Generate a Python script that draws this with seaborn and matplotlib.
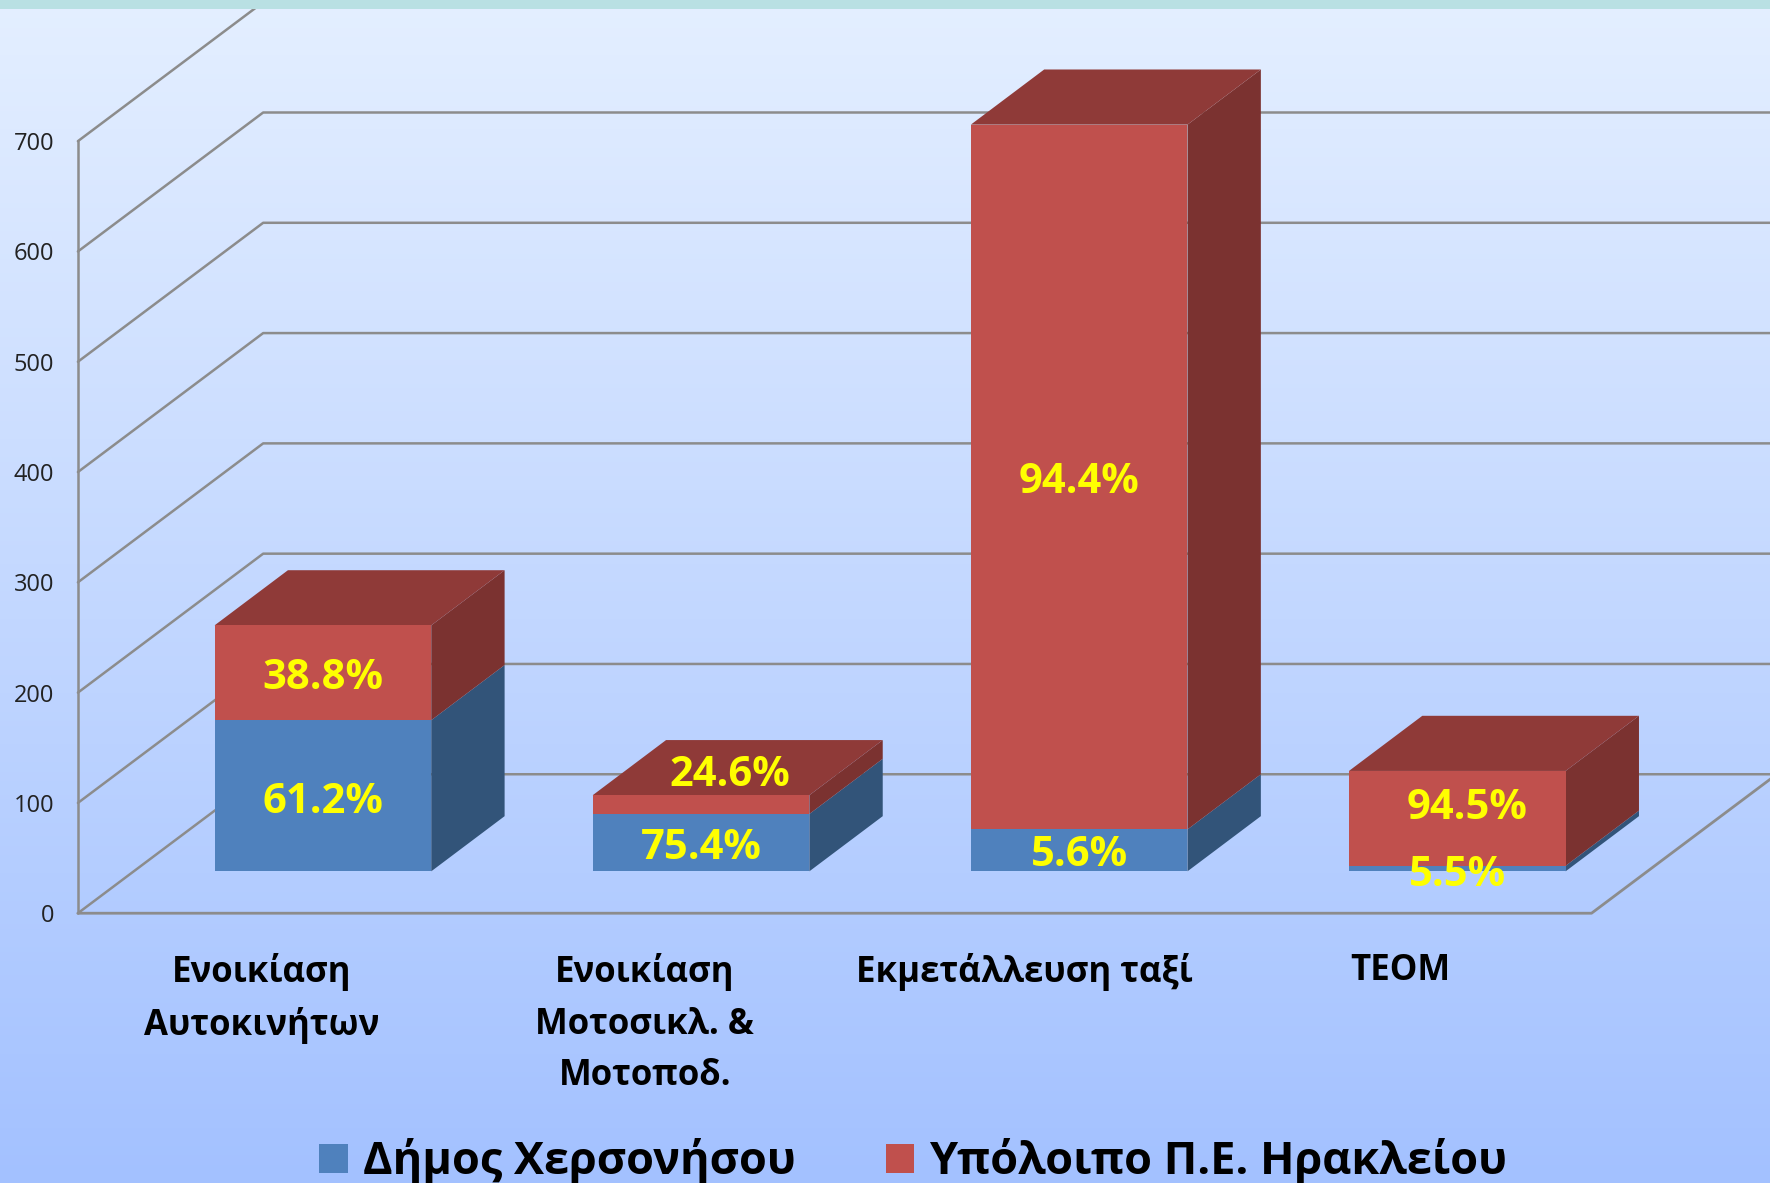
import numpy as np
import pandas as pd
import matplotlib.pyplot as plt
import seaborn as sns
from matplotlib.colors import LinearSegmentedColormap
from matplotlib.patches import Patch, Polygon, Rectangle

sns.set_theme(style="white")
plt.rcParams['font.family'] = ['Open Sans', 'DejaVu Sans']

# values
categories = ["Ενοικίαση\nΑυτοκινήτων", "Ενοικίαση\nΜοτοσικλ. &\nΜοτοποδ.", "Εκμετάλλευση ταξί", "ΤΕΟΜ"]
chersonisos = [137, 52, 38, 5]
rest = [86, 17, 639, 86]
chersonisos_labels = ["61.2%", "75.4%", "5.6%", "5.5%"]
rest_labels = ["38.8%", "24.6%", "94.4%", "94.5%"]
series_names = ["Δήμος Χερσονήσου", "Υπόλοιπο Π.Ε. Ηρακλείου"]
y_ticks = [0, 100, 200, 300, 400, 500, 600, 700]

BLUE, BLUE_SIDE = "#4f81bd", "#325479"
RED, RED_SIDE, RED_TOP = "#c0504d", "#7b3230", "#8f3a38"
GRID = "#8c8c8c"

# fake 3d geometry, in data units
WALL_DX, WALL_DY = 0.49, 126
BAR_DX, BAR_DY = 0.194, 50
FLOOR_LEFT, FLOOR_RIGHT = -0.648, 3.355
BAR_BASE = 38
BAR_WIDTH = 0.573
XLIM = (-0.854, 3.827)
YLIM = (-244.6, 828)

df = pd.DataFrame({"category": categories, "blue": chersonisos, "red": rest})

fig = plt.figure(figsize=(17.7, 11.83), dpi=100)
ax = fig.add_axes([0, 0, 1, 1])

# background gradient and the strip along the top
cmap = LinearSegmentedColormap.from_list("bg", ["#e4efff", "#a3c1ff"])
ax.imshow(np.linspace(0, 1, 256).reshape(-1, 1), cmap=cmap, aspect="auto",
          extent=(*XLIM, *YLIM), zorder=0)

# walls and gridlines
for v in y_ticks:
    ax.plot([FLOOR_LEFT, FLOOR_LEFT + WALL_DX, XLIM[1]], [v, v + WALL_DY, v + WALL_DY],
            color=GRID, lw=1.8, zorder=0.5)
ax.plot([FLOOR_LEFT, FLOOR_LEFT], [0, 700], color=GRID, lw=1.8, zorder=0.5)
ax.plot([FLOOR_LEFT, FLOOR_RIGHT, FLOOR_RIGHT + WALL_DX], [0, 0, WALL_DY],
        color=GRID, lw=2, zorder=0.6)

sns.barplot(data=df, x="category", y="blue", color=BLUE, saturation=1, width=BAR_WIDTH,
            bottom=BAR_BASE, linewidth=0, edgecolor="none", ax=ax, zorder=2)
blue_bars = list(ax.patches)
sns.barplot(data=df, x="category", y="red", color=RED, saturation=1, width=BAR_WIDTH,
            bottom=[BAR_BASE + b for b in chersonisos], linewidth=0, edgecolor="none", ax=ax, zorder=2)
red_bars = [p for p in ax.patches if p not in blue_bars]


def side_face(bar, color):
    x = bar.get_x() + bar.get_width()
    y0, y1 = bar.get_y(), bar.get_y() + bar.get_height()
    ax.add_patch(Polygon([(x, y0), (x + BAR_DX, y0 + BAR_DY), (x + BAR_DX, y1 + BAR_DY), (x, y1)],
                         facecolor=color, edgecolor="none", zorder=1.5))


for bar in blue_bars:
    side_face(bar, BLUE_SIDE)
for bar in red_bars:
    side_face(bar, RED_SIDE)
    x0, w, top = bar.get_x(), bar.get_width(), bar.get_y() + bar.get_height()
    ax.add_patch(Polygon([(x0, top), (x0 + w, top), (x0 + w + BAR_DX, top + BAR_DY), (x0 + BAR_DX, top + BAR_DY)],
                         facecolor=RED_TOP, edgecolor="none", zorder=1.5))

# percentage labels, a few were nudged by hand in the original
blue_nudge = [(0, -5), (0, -4), (0, -4), (0, -5)]
red_nudge = [(0, -4), (21, 21), (0, -4), (7, 7)]
for bars, labels, nudges in [(blue_bars, chersonisos_labels, blue_nudge), (red_bars, rest_labels, red_nudge)]:
    for bar, label, nudge in zip(bars, labels, nudges):
        ax.annotate(label, (bar.get_x() + bar.get_width() / 2, bar.get_y() + bar.get_height() / 2),
                    xytext=nudge, textcoords="offset points", ha="center", va="center",
                    color="#ffff00", fontsize=30, fontweight="bold", zorder=5)

ax.add_patch(Rectangle((0, 1 - 9 / 1183), 1, 9 / 1183, transform=ax.transAxes,
                       facecolor="#b9e0e3", edgecolor="none", zorder=4))

ax.set_xlim(*XLIM)
ax.set_ylim(*YLIM)
ax.set_xlabel("")
ax.set_ylabel("")
ax.set_yticks(y_ticks)
ax.tick_params(axis="y", length=0, pad=-39, labelsize=17, labelcolor="#222222")
ax.set_xticks([-0.161, 0.851, 1.854, 2.848], categories)
ax.tick_params(axis="x", length=0, pad=-165.5, labelsize=25, labelcolor="black")
for t in ax.get_xticklabels():
    t.set_fontweight("bold")
    t.set_linespacing(1.58)
    t.set_zorder(6)
sns.despine(ax=ax, left=True, bottom=True)

handles = [Patch(facecolor=BLUE, edgecolor="none", label=series_names[0]),
           Patch(facecolor=RED, edgecolor="none", label=series_names[1])]
ax.legend(handles=handles, loc="center", bbox_to_anchor=(0.516, 0.018), ncol=2, frameon=False,
          prop={"size": 32.4, "weight": "bold"}, handlelength=0.64, handleheight=0.64,
          handletextpad=0.33, columnspacing=2.0, labelcolor="black")

fig.savefig("out.png", dpi=100)
